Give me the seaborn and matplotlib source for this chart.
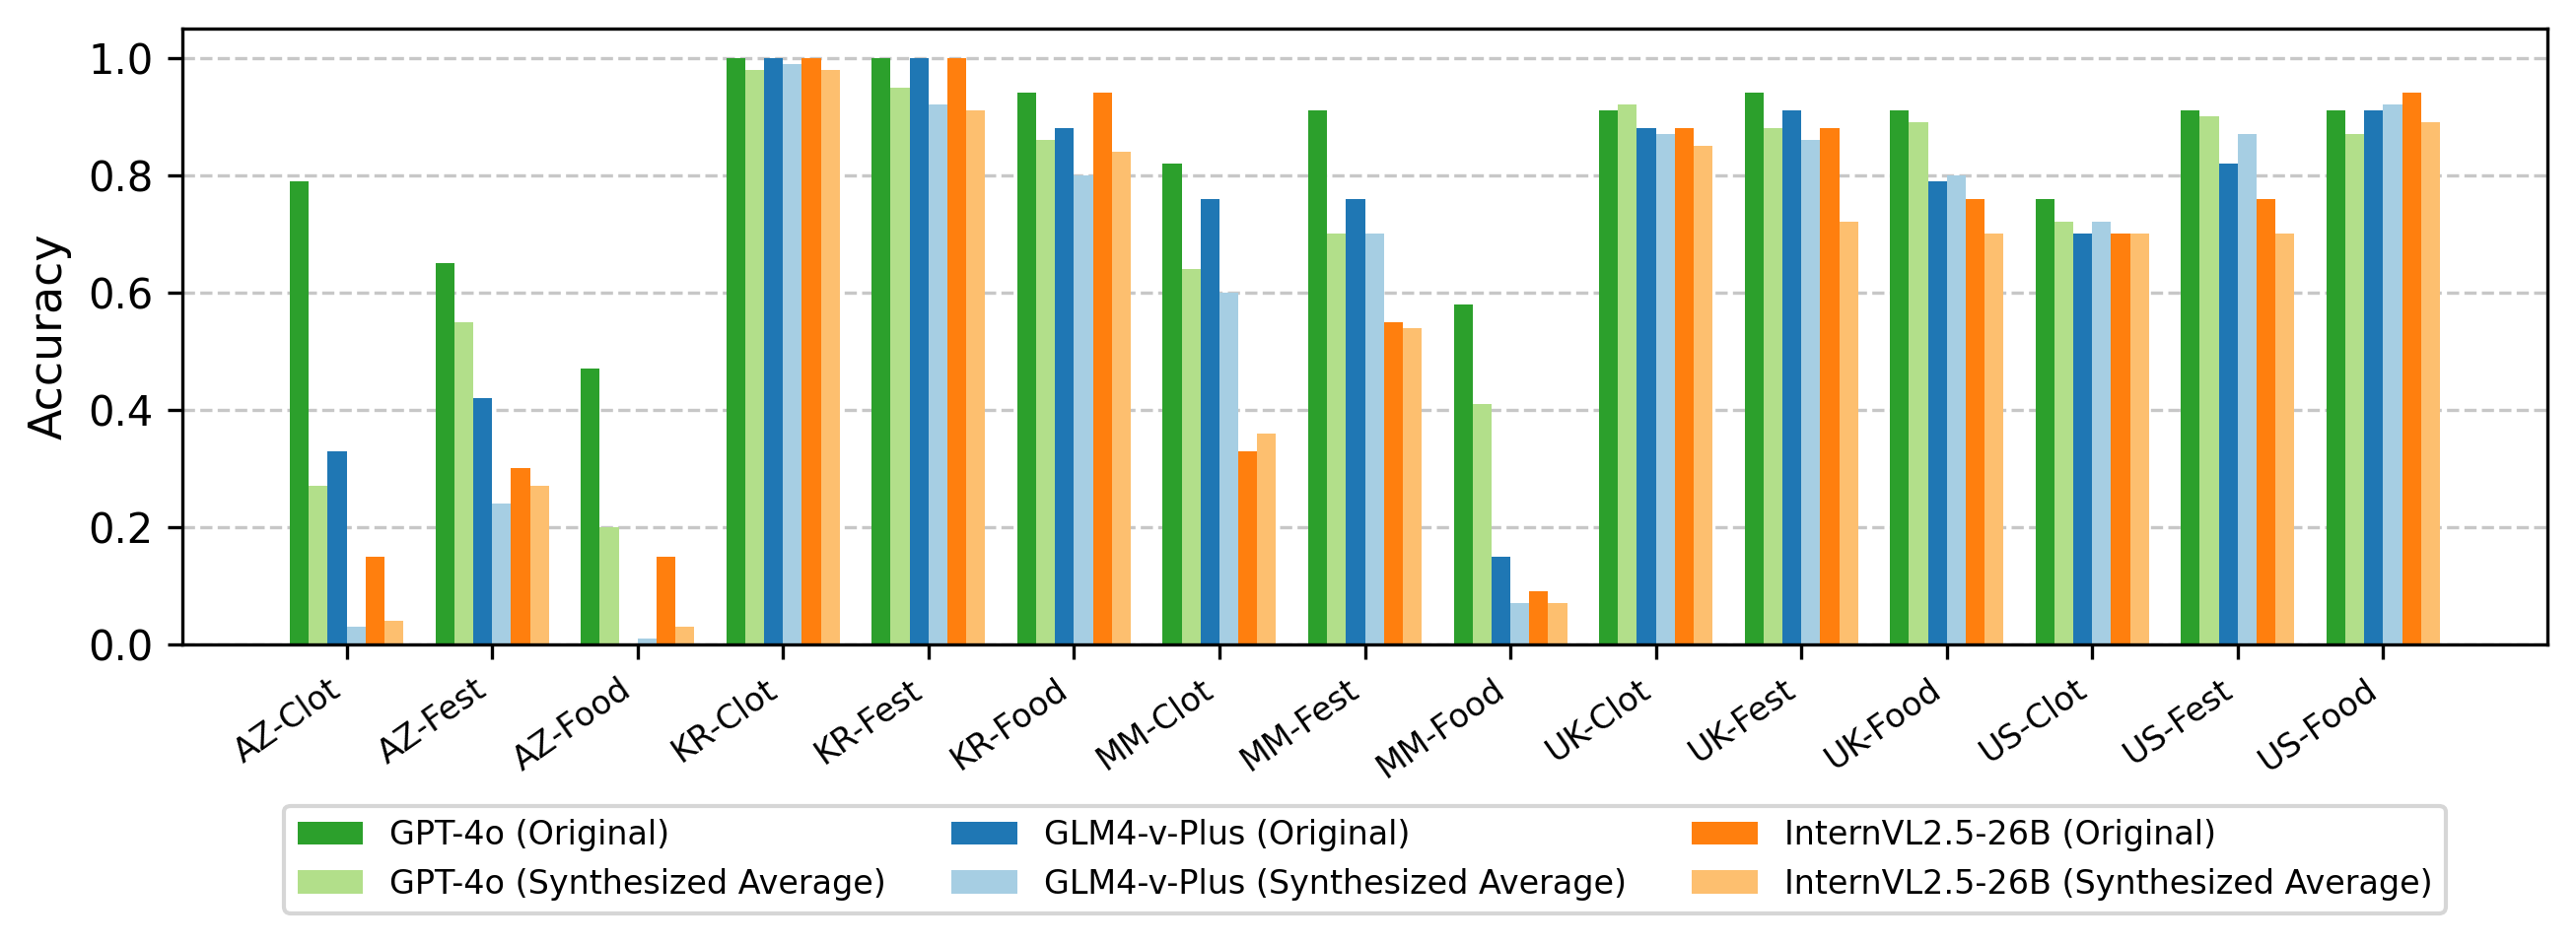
import matplotlib
matplotlib.use("Agg")
import matplotlib.pyplot as plt
import seaborn as sns
import pandas as pd

categories = ["AZ-Clot", "AZ-Fest", "AZ-Food", "KR-Clot", "KR-Fest", "KR-Food",
              "MM-Clot", "MM-Fest", "MM-Food", "UK-Clot", "UK-Fest", "UK-Food",
              "US-Clot", "US-Fest", "US-Food"]

series_names = ["GPT-4o (Original)", "GPT-4o (Synthesized Average)",
                "GLM4-v-Plus (Original)", "GLM4-v-Plus (Synthesized Average)",
                "InternVL2.5-26B (Original)", "InternVL2.5-26B (Synthesized Average)"]

gpt4o_orig = [0.79, 0.65, 0.47, 1.00, 1.00, 0.94, 0.82, 0.91, 0.58, 0.91, 0.94, 0.91, 0.76, 0.91, 0.91]
gpt4o_syn = [0.27, 0.55, 0.20, 0.98, 0.95, 0.86, 0.64, 0.70, 0.41, 0.92, 0.88, 0.89, 0.72, 0.90, 0.87]
glm_orig = [0.33, 0.42, 0.00, 1.00, 1.00, 0.88, 0.76, 0.76, 0.15, 0.88, 0.91, 0.79, 0.70, 0.82, 0.91]
glm_syn = [0.03, 0.24, 0.01, 0.99, 0.92, 0.80, 0.60, 0.70, 0.07, 0.87, 0.86, 0.80, 0.72, 0.87, 0.92]
intern_orig = [0.15, 0.30, 0.15, 1.00, 1.00, 0.94, 0.33, 0.55, 0.09, 0.88, 0.88, 0.76, 0.70, 0.76, 0.94]
intern_syn = [0.04, 0.27, 0.03, 0.98, 0.91, 0.84, 0.36, 0.54, 0.07, 0.85, 0.72, 0.70, 0.70, 0.70, 0.89]

colors = ["#2ca02c", "#b2df8a", "#1f77b4", "#a6cee3", "#ff7f0e", "#fdbf6f"]

all_series = [gpt4o_orig, gpt4o_syn, glm_orig, glm_syn, intern_orig, intern_syn]
rows = []
for name, vals in zip(series_names, all_series):
    for cat, v in zip(categories, vals):
        rows.append({"Category": cat, "Model": name, "Accuracy": v})
df = pd.DataFrame(rows)

fig = plt.figure(figsize=(2613 / 300, 958 / 300), dpi=300)
ax = fig.add_axes([185 / 2613, 1 - 654 / 958, (2584 - 185) / 2613, (654 - 29) / 958])

sns.barplot(data=df, x="Category", y="Accuracy", hue="Model",
            order=categories, hue_order=series_names,
            palette=colors, saturation=1, width=0.78, errorbar=None,
            linewidth=0, ax=ax)

ax.set_axisbelow(True)
ax.yaxis.grid(True, linestyle="--", color="#b0b0b0", alpha=0.7, linewidth=0.8)
ax.xaxis.grid(False)
ax.set_ylim(0, 1.05)
ax.set_xlim(-1.129, 15.129)
ax.set_xlabel("")
ax.set_ylabel("Accuracy", fontsize=11)
ax.tick_params(axis="y", labelsize=10)
ax.tick_params(axis="x", labelsize=8)
ax.set_xticks(range(len(categories)))
ax.set_xticklabels(categories, rotation=35, ha="right")
for s in ax.spines.values():
    s.set_visible(True)
    s.set_color("black")

handles, labels = ax.get_legend_handles_labels()
if ax.get_legend() is not None:
    ax.get_legend().remove()
ax.legend(handles, labels, ncol=3, loc="upper center",
          bbox_to_anchor=(0.5, -0.262), borderaxespad=0, fontsize=8)

fig.savefig("out.png", dpi=300)
